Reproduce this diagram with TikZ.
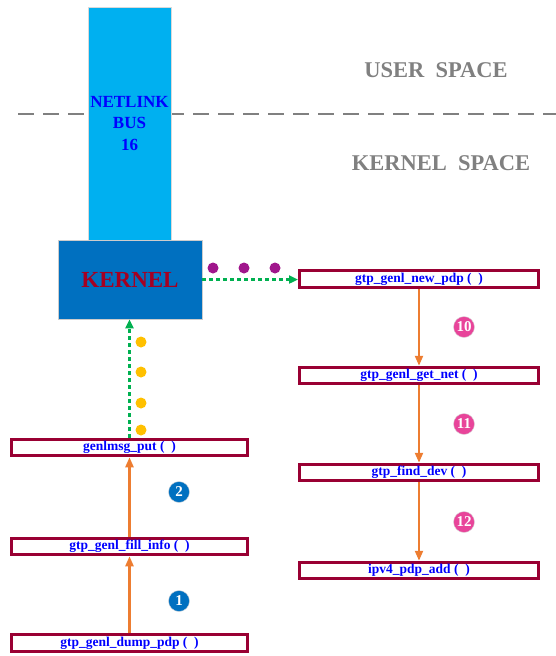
\documentclass[tikz,border=0pt]{standalone}
\usepackage{fontspec}
\setmainfont{Liberation Serif}
\usetikzlibrary{arrows.meta}
\definecolor{busblue}{HTML}{00B0F0}
\definecolor{kernblue}{HTML}{0070C0}
\definecolor{kernred}{HTML}{A50021}
\definecolor{boxred}{HTML}{990033}
\definecolor{fnblue}{HTML}{0000FF}
\definecolor{callorange}{HTML}{ED7D31}
\definecolor{msggreen}{HTML}{00B050}
\definecolor{dotpurple}{HTML}{A0168C}
\definecolor{dotyellow}{HTML}{FFC000}
\definecolor{steppink}{HTML}{E8449A}
\begin{document}
\begin{tikzpicture}[x=1pt,y=-1pt,
    fnbox/.style={draw=boxred,line width=3pt,fill=white,minimum width=236pt,
      minimum height=16.5pt,inner sep=0pt,text=fnblue,
      font=\bfseries\fontsize{13.5}{15}\selectfont},
    call/.style={callorange,line width=2.2pt,-{Triangle[width=8pt,length=10pt]}},
    msg/.style={msggreen,line width=2.4pt,dash pattern=on 4pt off 3pt,
      -{Triangle[width=8pt,length=9pt]}},
    stepno/.style={circle,fill=#1,draw=gray!30,line width=0.4pt,minimum size=21pt,
      inner sep=0pt,text=white,font=\bfseries\fontsize{15}{16}\selectfont},
    spacelabel/.style={text=gray,font=\bfseries\fontsize{22.5}{24}\selectfont}]
  \useasboundingbox (0,0) rectangle (556,656);
  % user / kernel border
  \draw[gray,line width=2.2pt,dash pattern=on 16pt off 9pt] (18,114) -- (556,114);
  \node[spacelabel] (user) at (436,70) {USER\ \ SPACE};
  \node[spacelabel] (kspace) at (441,163) {KERNEL\ \ SPACE};
  % netlink bus and kernel
  \node[fill=busblue,draw=gray!30,line width=0.6pt,minimum width=83pt,minimum height=233pt,
    inner sep=0pt,align=center,text=fnblue,font=\bfseries\fontsize{17}{21.5}\selectfont]
    (bus) at (129.5,123.5) {NETLINK\\BUS\\16};
  \node[fill=kernblue,draw=gray!40,line width=0.6pt,minimum width=144pt,minimum height=79pt,
    inner sep=0pt,text=kernred,font=\bfseries\fontsize{23}{25}\selectfont]
    (kernel) at (130,279.5) {KERNEL};
  % dump path
  \node[fnbox] (put) at (129.5,447.5) {genlmsg\_put ( \ )};
  \node[fnbox] (fill) at (129.5,546.5) {gtp\_genl\_fill\_info ( \ )};
  \node[fnbox] (dump) at (129.5,643) {gtp\_genl\_dump\_pdp ( \ )};
  \draw[call] (dump.north) -- (fill.south);
  \draw[call] (fill.north) -- (put.south);
  \draw[msg] (put.north) -- (put.north |- kernel.south);
  \node[stepno=kernblue] (s1) at (179,601) {1};
  \node[stepno=kernblue] (s2) at (179,492) {2};
  \foreach \y in {342,372,403,430}
    \fill[dotyellow] (141,\y) circle (5.5pt);
  % new pdp path
  \node[fnbox,minimum width=239pt] (newpdp) at (419,279) {gtp\_genl\_new\_pdp ( \ )};
  \node[fnbox,minimum width=239pt] (getnet) at (419,375.5) {gtp\_genl\_get\_net ( \ )};
  \node[fnbox,minimum width=239pt] (finddev) at (419,472.5) {gtp\_find\_dev ( \ )};
  \node[fnbox,minimum width=239pt] (pdpadd) at (419,570.5) {ipv4\_pdp\_add ( \ )};
  \draw[msg] (kernel.east) -- (kernel.east -| newpdp.west);
  \draw[call] (newpdp) -- (getnet);
  \draw[call] (getnet) -- (finddev);
  \draw[call] (finddev) -- (pdpadd);
  \node[stepno=steppink] (s10) at (464,327) {10};
  \node[stepno=steppink] (s11) at (464,424) {11};
  \node[stepno=steppink] (s12) at (464,522) {12};
  \foreach \x in {213,244,275}
    \fill[dotpurple] (\x,268) circle (5.5pt);
\end{tikzpicture}
\end{document}
